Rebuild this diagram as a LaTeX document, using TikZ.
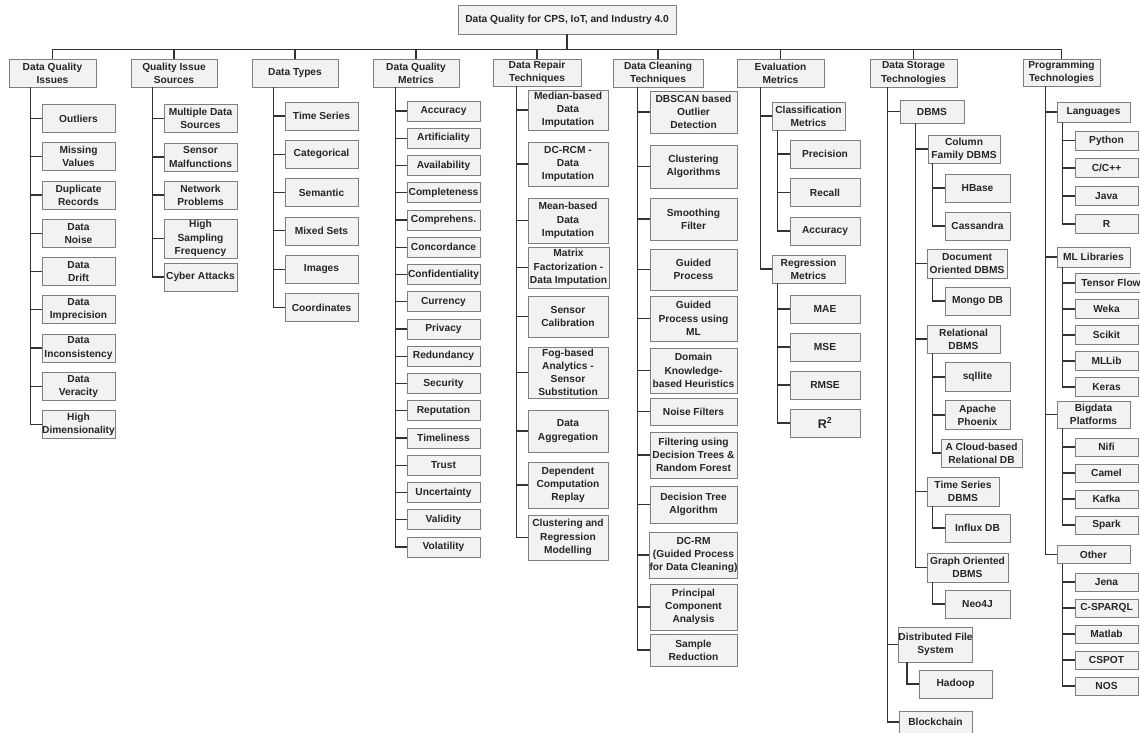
\documentclass[tikz,border=0pt]{standalone}
\usepackage{fontspec}
\setmainfont{Liberation Sans}
\definecolor{boxfill}{HTML}{F2F2F2}
\definecolor{boxline}{HTML}{7F7F7F}
\definecolor{connc}{HTML}{333333}
\definecolor{txt}{HTML}{262626}
\newcommand\bx[6]{\node[box, minimum width=#4pt, minimum height=#5pt] (#1) at (#2,#3) {#6};}
\newcommand\br[3]{\foreach \c in {#3}{\draw[conn] ([xshift=#2pt]#1.south west) |- (\c.west);}}
\begin{document}
\begin{tikzpicture}[x=1pt,y=-1pt,
  box/.style={draw=boxline, fill=boxfill, line width=0.8pt, align=center, inner xsep=0pt, inner ysep=0pt,
    font=\fontsize{10.2}{13.2}\selectfont\bfseries, text=txt},
  conn/.style={draw=connc, line width=1.1pt}]
\useasboundingbox (0,0) rectangle (1140,733);
\fill[white] (0,0) rectangle (1140,733);
% root
\bx{root}{567}{19.5}{218}{29}{Data Quality for CPS, IoT, and Industry 4.0}
% headers
\bx{h1}{52.5}{73}{87}{28}{Data Quality\\Issues}
\bx{h2}{174}{73}{86}{28}{Quality Issue\\Sources}
\bx{h3}{295}{73}{86}{28}{Data Types}
\bx{h4}{416}{73}{86}{28}{Data Quality\\Metrics}
\bx{h5}{537}{72.5}{88}{27}{Data Repair\\Techniques}
\bx{h6}{658}{73}{90}{28}{Data Cleaning\\Techniques}
\bx{h7}{780.5}{73}{87}{28}{Evaluation\\Metrics}
\bx{h8}{913.5}{73}{87}{28}{Data Storage\\Technologies}
\bx{h9}{1061.5}{72.5}{77}{27}{Programming\\Technologies}
\coordinate (bus) at (567,49.5);
\draw[conn] (root.south) -- (bus);
\draw[conn] (h1.north |- bus) -- (h9.north |- bus);
\foreach \h in {h1,h2,h3,h4,h5,h6,h7,h8,h9}{\draw[conn] (\h.north) -- (\h.north |- bus);}
% col 1
\bx{a1}{78.5}{118.5}{73}{28}{Outliers}
\bx{a2}{78.5}{156.75}{73}{28}{Missing\\Values}
\bx{a3}{78.5}{195}{73}{28}{Duplicate\\Records}
\bx{a4}{78.5}{233.25}{73}{28}{Data\\Noise}
\bx{a5}{78.5}{271.5}{73}{28}{Data\\Drift}
\bx{a6}{78.5}{309.75}{73}{28}{Data\\Imprecision}
\bx{a7}{78.5}{348}{73}{28}{Data\\Inconsistency}
\bx{a8}{78.5}{386.25}{73}{28}{Data\\Veracity}
\bx{a9}{78.5}{424.5}{73}{28}{High\\Dimensionality}
\br{h1}{22}{a1,a2,a3,a4,a5,a6,a7,a8,a9}
% col 2
\bx{b1}{200.5}{118.5}{73}{28}{Multiple Data\\Sources}
\bx{b2}{200.5}{157}{73}{28}{Sensor\\Malfunctions}
\bx{b3}{200.5}{195}{73}{28}{Network\\Problems}
\bx{b4}{200.5}{238.5}{73}{39}{High\\Sampling\\Frequency}
\bx{b5}{200.5}{277}{73}{28}{Cyber Attacks}
\br{h2}{22}{b1,b2,b3,b4,b5}
% col 3
\bx{c1}{321.5}{116}{73}{28}{Time Series}
\bx{c2}{321.5}{154.3}{73}{28}{Categorical}
\bx{c3}{321.5}{192.6}{73}{28}{Semantic}
\bx{c4}{321.5}{230.9}{73}{28}{Mixed Sets}
\bx{c5}{321.5}{269.2}{73}{28}{Images}
\bx{c6}{321.5}{307.5}{73}{28}{Coordinates}
\br{h3}{22}{c1,c2,c3,c4,c5,c6}
% col 4
\foreach \t [count=\i from 0] in {Accuracy,Artificiality,Availability,Completeness,Comprehens.,Concordance,Confidentiality,Currency,Privacy,Redundancy,Security,Reputation,Timeliness,Trust,Uncertainty,Validity,Volatility}{
  \node[box, minimum width=73pt, minimum height=20pt] (d\i) at (443.5,{111+27.25*\i}) {\t};
  \draw[conn] ([xshift=23pt]h4.south west) |- (d\i.west);
}
% col 5
\bx{e1}{568}{110}{80}{40}{Median-based\\Data\\Imputation}
\bx{e2}{568}{164}{80}{44}{DC-RCM -\\Data\\Imputation}
\bx{e3}{568}{220.5}{80}{45}{Mean-based\\Data\\Imputation}
\bx{e4}{568.5}{267.5}{81}{41}{\fontsize{10.2}{12.6}\selectfont Matrix\\Factorization -\\Data Imputation}
\bx{e5}{568}{316.5}{80}{41}{Sensor\\Calibration}
\bx{e6}{568}{372.5}{80}{51}{Fog-based\\Analytics -\\Sensor\\Substitution}
\bx{e7}{568}{431}{80}{42}{Data\\Aggregation}
\bx{e8}{568}{485}{80}{46}{Dependent\\Computation\\Replay}
\bx{e9}{568}{537.5}{80}{45}{Clustering and\\Regression\\Modelling}
\br{h5}{24}{e1,e2,e3,e4,e5,e6,e7,e8,e9}
% col 6
\bx{f1}{693.5}{112}{87}{42}{DBSCAN based\\Outlier\\Detection}
\bx{f2}{693.5}{166.5}{87}{43}{Clustering\\Algorithms}
\bx{f3}{693.5}{219}{87}{42}{Smoothing\\Filter}
\bx{f4}{693.5}{269.5}{87}{41}{Guided\\Process}
\bx{f5}{693.5}{318.5}{87}{45}{Guided\\Process using\\ML}
\bx{f6}{693.5}{370.5}{87}{45}{Domain\\Knowledge-\\based Heuristics}
\bx{f7}{693.5}{411.5}{87}{27}{Noise Filters}
\bx{f8}{693.5}{455}{87}{46}{Filtering using\\Decision Trees \&\\Random Forest}
\bx{f9}{693.5}{504.5}{87}{37}{Decision Tree\\Algorithm}
\bx{f10}{693.5}{555}{87}{46}{DC-RM\\(Guided Process\\for Data Cleaning)}
\bx{f11}{693.5}{607}{87}{46}{Principal\\Component\\Analysis}
\bx{f12}{693.5}{650}{87}{32}{Sample\\Reduction}
\br{h6}{25}{f1,f2,f3,f4,f5,f6,f7,f8,f9,f10,f11,f12}
% col 7
\bx{g1}{808.5}{116}{73}{28}{Classification\\Metrics}
\bx{g2}{825}{154}{70}{28}{Precision}
\bx{g3}{825}{192.5}{70}{28}{Recall}
\bx{g4}{825}{231}{70}{28}{Accuracy}
\bx{g5}{808.5}{269}{73}{28}{Regression\\Metrics}
\bx{g6}{825}{309}{70}{28}{MAE}
\bx{g7}{825}{347}{70}{28}{MSE}
\bx{g8}{825}{385}{70}{28}{RMSE}
\bx{g9}{825}{423}{70}{28}{\fontsize{12.5}{14}\selectfont R\textsuperscript{2}}
\br{h7}{24}{g1,g5}
\br{g1}{6}{g2,g3,g4}
\br{g5}{6}{g6,g7,g8,g9}
% col 8
\bx{s1}{932}{111.5}{64}{23}{DBMS}
\bx{s2}{964}{149}{72}{28}{Column\\Family DBMS}
\bx{s3}{977.5}{188}{65}{28}{HBase}
\bx{s4}{977.5}{226}{65}{28}{Cassandra}
\bx{s5}{967}{263.5}{80}{29}{Document\\Oriented DBMS}
\bx{s6}{977.5}{301}{65}{28}{Mongo DB}
\bx{s7}{963.5}{339}{73}{28}{Relational\\DBMS}
\bx{s8}{977.5}{377}{65}{29}{sqllite}
\bx{s9}{977.5}{415}{65}{29}{Apache\\Phoenix}
\bx{s10}{981.5}{453}{81}{28}{A Cloud-based\\Relational DB}
\bx{s11}{963}{491.5}{72}{29}{Time Series\\DBMS}
\bx{s12}{977.5}{528}{65}{28}{Influx DB}
\bx{s13}{967.5}{567.5}{81}{29}{Graph Oriented\\DBMS}
\bx{s14}{977.5}{604}{65}{28}{Neo4J}
\bx{s15}{935.5}{644.5}{74}{35}{Distributed File\\System}
\bx{s16}{955.5}{684}{73}{28}{Hadoop}
\bx{s17}{935.5}{722}{73}{22}{Blockchain}
\br{h8}{18}{s1,s15,s17}
\br{s1}{16}{s2,s5,s7,s11,s13}
\br{s2}{5}{s3,s4}
\br{s5}{6}{s6}
\br{s7}{6}{s8,s9,s10}
\br{s11}{6}{s12}
\br{s13}{6}{s14}
\br{s15}{9}{s16}
% col 9
\bx{p1}{1093.5}{112}{73}{20}{Languages}
\bx{p2}{1106.5}{140.5}{63}{19}{Python}
\bx{p3}{1106.5}{168}{63}{19}{C/C++}
\bx{p4}{1106.5}{196}{63}{19}{Java}
\bx{p5}{1106.5}{224}{63}{19}{R}
\bx{p6}{1093.5}{257}{73}{20}{ML Libraries}
\bx{p7}{1111}{283}{72}{19}{Tensor Flow}
\bx{p8}{1106.5}{309}{63}{19}{Weka}
\bx{p9}{1106.5}{335}{63}{19}{Scikit}
\bx{p10}{1106.5}{361}{63}{19}{MLLib}
\bx{p11}{1106.5}{387}{63}{19}{Keras}
\bx{p12}{1093.5}{414.5}{73}{27}{Bigdata\\Platforms}
\bx{p13}{1106.5}{447}{63}{18}{Nifi}
\bx{p14}{1106.5}{473}{63}{18}{Camel}
\bx{p15}{1106.5}{499}{63}{18}{Kafka}
\bx{p16}{1106.5}{525}{63}{18}{Spark}
\bx{p17}{1093.5}{554.5}{73}{18}{Other}
\bx{p18}{1106.5}{582}{63}{18}{Jena}
\bx{p19}{1106.5}{608}{63}{18}{C-SPARQL}
\bx{p20}{1106.5}{634}{63}{18}{Matlab}
\bx{p21}{1106.5}{660}{63}{18}{CSPOT}
\bx{p22}{1106.5}{686}{63}{18}{NOS}
\br{h9}{23}{p1,p6,p12,p17}
\br{p1}{6}{p2,p3,p4,p5}
\br{p6}{6}{p7,p8,p9,p10,p11}
\br{p12}{6}{p13,p14,p15,p16}
\br{p17}{6}{p18,p19,p20,p21,p22}
\end{tikzpicture}
\end{document}
